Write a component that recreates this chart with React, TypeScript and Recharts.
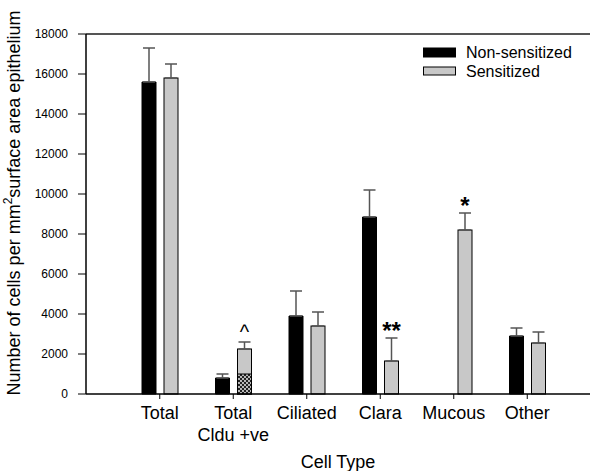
import React from 'react';
import { BarChart, Bar, XAxis, YAxis, ErrorBar, LabelList, ReferenceLine, Legend } from 'recharts';

const categories = ['Total', 'Total\nCldu +ve', 'Ciliated', 'Clara', 'Mucous', 'Other'];
const nonSensitized = [15600, 800, 3900, 8850, null, 2900];
const nonSensitizedErr = [1700, 200, 1250, 1350, null, 400];
const sensitized = [15800, 2250, 3400, 1650, 8200, 2550];
const sensitizedErr = [700, 350, 700, 1150, 850, 550];
// hatched (Cldu-labelled) share of the sensitized bar
const sensitizedCldu = [0, 1000, 0, 0, 0, 0];
const markers = ['', '^', '', '**', '*', ''];
const yTicks = [0, 2000, 4000, 6000, 8000, 10000, 12000, 14000, 16000, 18000];

const data = categories.map((name, i) => ({
  name,
  ns: nonSensitized[i],
  nsErr: nonSensitizedErr[i] == null ? null : [0, nonSensitizedErr[i]],
  sen: sensitized[i],
  senErr: [0, sensitizedErr[i]],
  cldu: sensitizedCldu[i],
  mark: markers[i],
  errUp: sensitizedErr[i],
}));

const FONT = '"Liberation Sans", Arial, Helvetica, sans-serif';
const GREY = '#c8c8c8';

const CategoryTick = (props: any) => {
  const { x, y, payload } = props;
  const lines = String(payload.value).split('\n');
  return (
    <text x={x} y={y} textAnchor="middle" fontSize={18} fill="#000" fontFamily={FONT}>
      {lines.map((l, i) => (
        <tspan key={i} x={x} dy={i === 0 ? '0.71em' : 22}>
          {l}
        </tspan>
      ))}
    </text>
  );
};

const SensitizedShape = (props: any) => {
  const { x, y, width, height, payload } = props;
  const subH = payload.cldu && payload.sen ? (height * payload.cldu) / payload.sen : 0;
  return (
    <g>
      <rect x={x} y={y} width={width} height={height} fill={GREY} stroke="#000" strokeWidth={1} />
      {subH > 0 && (
        <g>
          <defs>
            <pattern id="cldu-hatch" width={4} height={4} patternUnits="userSpaceOnUse">
              <rect width={4} height={4} fill="#222" />
              <circle cx={1} cy={1} r={0.9} fill="#fff" />
              <circle cx={3} cy={3} r={0.9} fill="#fff" />
            </pattern>
          </defs>
          <rect x={x} y={y + height - subH} width={width} height={subH} fill="url(#cldu-hatch)" stroke="#000" strokeWidth={1} />
        </g>
      )}
    </g>
  );
};

// significance marks sit just above the sensitized error bar
const MarkLabel = (props: any) => {
  const { x, y, width, height, value, index } = props;
  const d = data[index];
  if (!d.mark || !value) return null;
  const top = y - (d.errUp * height) / value;
  const star = d.mark.includes('*');
  return (
    <text
      x={x + width / 2}
      y={star ? top + 1 : top - 3}
      textAnchor="middle"
      fontSize={star ? 24 : 20}
      fontWeight={star ? 'bold' : 'normal'}
      fill="#000"
      fontFamily={FONT}
    >
      {d.mark}
    </text>
  );
};

const LegendBox = () => (
  <svg width={168} height={36} style={{ display: 'block', overflow: 'visible' }}>
    <rect x={0.5} y={1} width={32} height={9} fill="#000" stroke="#000" />
    <text x={43} y={10.6} fontSize={16} fontFamily={FONT} fill="#000">Non-sensitized</text>
    <rect x={0.5} y={20} width={32} height={8} fill={GREY} stroke="#000" />
    <text x={43} y={29.6} fontSize={16} fontFamily={FONT} fill="#000">Sensitized</text>
  </svg>
);

export default function App() {
  return (
    <div style={{ position: 'absolute', left: 0, top: 0, background: '#fff', fontFamily: FONT }}>
      <BarChart
        width={592}
        height={471}
        data={data}
        margin={{ top: 34, right: 2, bottom: 0, left: 26 }}
        barSize={14}
        barGap={8}
      >
        <ReferenceLine y={18000} stroke="#555" strokeWidth={2} />
        <XAxis
          dataKey="name"
          height={77}
          padding={{ left: 37, right: 26 }}
          interval={0}
          tick={<CategoryTick />}
          tickSize={5}
          tickMargin={7}
          axisLine={{ stroke: '#000', strokeWidth: 1.5 }}
          tickLine={{ stroke: '#000' }}
          label={{
            content: (p: any) => {
              const vb = p.viewBox;
              return (
                <text x={vb.x + vb.width / 2} y={468} textAnchor="middle" fontSize={18} fontFamily={FONT} fill="#000">
                  Cell Type
                </text>
              );
            },
          }}
        />
        <YAxis
          width={60}
          domain={[0, 18000]}
          ticks={yTicks}
          interval={0}
          tickSize={8}
          tickMargin={10}
          tick={{ fontSize: 12, fill: '#000', fontFamily: FONT }}
          axisLine={{ stroke: '#000', strokeWidth: 1.5 }}
          tickLine={{ stroke: '#000' }}
          label={{
            content: () => (
              <text transform="translate(20,203) rotate(-90)" textAnchor="middle" fontSize={18} fontFamily={FONT} fill="#000">
                Number of cells per mm
                <tspan dy={-8} fontSize={12}>2</tspan>
                <tspan dy={8}>surface area epithelium</tspan>
              </text>
            ),
          }}
        />
        <Legend
          layout="vertical"
          align="center"
          verticalAlign="middle"
          content={<LegendBox />}
          wrapperStyle={{ left: 423, top: 47, width: 168, height: 36 }}
        />
        <Bar dataKey="ns" name="Non-sensitized" fill="#000" stroke="#000" isAnimationActive={false}>
          <ErrorBar dataKey="nsErr" direction="y" width={6} stroke="#555" strokeWidth={1.5} />
        </Bar>
        <Bar dataKey="sen" name="Sensitized" fill={GREY} shape={<SensitizedShape />} isAnimationActive={false}>
          <ErrorBar dataKey="senErr" direction="y" width={6} stroke="#555" strokeWidth={1.5} />
          <LabelList dataKey="sen" content={<MarkLabel />} />
        </Bar>
      </BarChart>
    </div>
  );
}
